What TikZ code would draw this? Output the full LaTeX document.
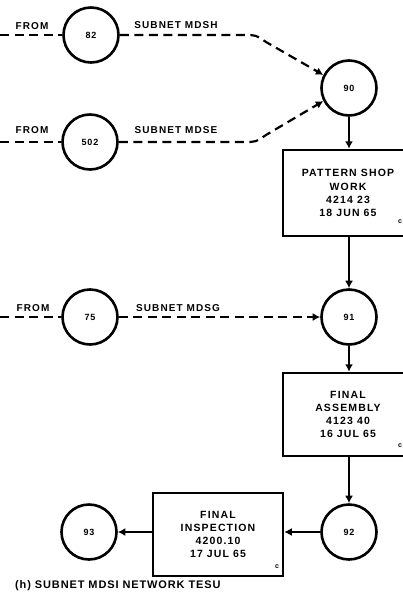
\documentclass[tikz,border=0pt]{standalone}
\usepackage{fontspec}
\setmainfont{Liberation Sans}
\newfontfamily\lblfont[LetterSpace=11]{Liberation Sans}
\newfontfamily\capfont[LetterSpace=8]{Liberation Sans}
\usetikzlibrary{arrows.meta}
\begin{document}
\begin{tikzpicture}[x=1pt,y=1pt,
  lbl/.style={font=\lblfont\bfseries\fontsize{10}{12}\selectfont, inner sep=0pt},
  evt/.style={circle, draw, line width=2.6pt, minimum size=55pt, inner sep=0pt,
              font=\lblfont\bfseries\fontsize{9}{10}\selectfont},
  act/.style={rectangle, draw, line width=2.5pt, align=center, inner sep=0pt,
              font=\lblfont\bfseries\fontsize{10.5}{13.2}\selectfont},
  flow/.style={line width=2pt, -{Latex[length=7.5pt,width=8pt]}},
  sub/.style={line width=2.2pt, dash pattern=on 9pt off 5.5pt},
  subarr/.style={sub, -{Latex[length=7.5pt,width=8pt]}},
  cornermark/.style={font=\fontsize{7}{7}\selectfont\bfseries, inner sep=0pt}]
\useasboundingbox (0,0) rectangle (403,-611);

% event circles
\node[evt] (c82)  at (91,-35)   {82};
\node[evt] (c502) at (90,-142)  {502};
\node[evt] (c90)  at (349,-88)  {90};
\node[evt] (c75)  at (90,-317)  {75};
\node[evt] (c91)  at (349,-317) {91};
\node[evt] (c92)  at (349,-532) {92};
\node[evt] (c93)  at (89,-532)  {93};

% activity boxes
\node[act, minimum width=130pt, minimum height=86pt] (b1) at (348,-193)
  {PATTERN  SHOP\\WORK\\4214 23\\18 JUN 65};
\node[act, minimum width=130pt, minimum height=83pt] (b2) at (348,-414.5)
  {FINAL\\ASSEMBLY\\4123 40\\16 JUL 65};
\node[act, minimum width=130pt, minimum height=83pt] (b3) at (218,-534.5)
  {FINAL\\INSPECTION\\4200.10\\17 JUL 65};

% small corner marks
\node[cornermark] (m1) at (400,-222) {c};
\node[cornermark] (m2) at (400,-446) {c};
\node[cornermark] (m3) at (277,-567) {c};

% labels
\node[lbl] (f1) at (32,-26)  {FROM};
\node[lbl] (f2) at (32,-130) {FROM};
\node[lbl] (f3) at (33,-308) {FROM};
\node[lbl] (s1) at (176,-25)  {SUBNET MDSH};
\node[lbl] (s2) at (176,-130) {SUBNET MDSE};
\node[lbl] (s3) at (178,-308) {SUBNET MDSG};
\node[font=\capfont\bfseries\fontsize{11}{12}\selectfont, inner sep=0pt, anchor=west]
  (cap) at (15,-586) {(h) SUBNET MDSI NETWORK TESU};

% free ends
\coordinate (e1) at (0,-35);
\coordinate (e2) at (0,-142);
\coordinate (e3) at (0,-317);
\coordinate (k1) at (244,-35);
\coordinate (k2) at (244,-142);

% incoming dashed lines
\draw[sub] (e1) -- (c82.west);
\draw[sub] (e2) -- (c502.west);
\draw[sub] (e3) -- (c75.west);

% subnet connectors
\draw[subarr] (c82.east) -- (k1) .. controls (256,-35) .. (266,-42) -- (c90.153);
\draw[subarr] (c502.east) -- (k2) .. controls (256,-142) .. (266,-135) -- (c90.207);
\draw[subarr] (c75.east) -- (c91.west);

% main flow
\draw[flow] (c90.south) -- (c90.south |- b1.north);
\draw[flow] (c91.north |- b1.south) -- (c91.north);
\draw[flow] (c91.south) -- (c91.south |- b2.north);
\draw[flow] (c92.north |- b2.south) -- (c92.north);
\draw[flow] (c92.west) -- (b3.east |- c92.west);
\draw[flow] (b3.west |- c93.east) -- (c93.east);
\end{tikzpicture}
\end{document}
